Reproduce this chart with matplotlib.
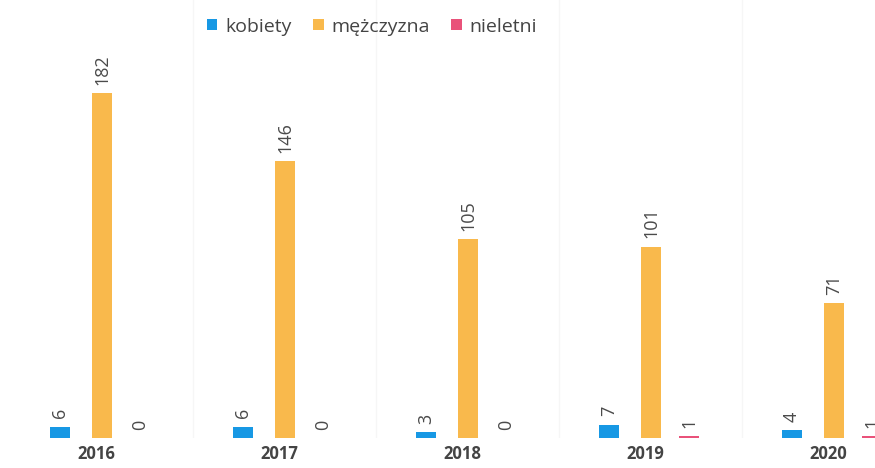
import numpy as np
import matplotlib.pyplot as plt

years = ['2016', '2017', '2018', '2019', '2020']
kobiety = [6, 6, 3, 7, 4]
mezczyzna = [182, 146, 105, 101, 71]
nieletni = [0, 0, 0, 1, 1]

colors = ['#1798e4', '#f9b94c', '#e9527a']
labels = ['kobiety', 'mężczyzna', 'nieletni']
series = [kobiety, mezczyzna, nieletni]
offsets = [-0.23, 0.0, 0.21]

plt.rcParams['font.family'] = ['Open Sans', 'DejaVu Sans']

fig = plt.figure(figsize=(8.75, 4.68), dpi=100)
ax = fig.add_axes([0, 0.064, 1, 0.936])

x = np.arange(len(years))
for vals, off, col, lab in zip(series, offsets, colors, labels):
    bars = ax.bar(x + off, vals, width=0.11, color=col, label=lab)
    for b, v in zip(bars, vals):
        ax.annotate(str(v), (b.get_x() + b.get_width() / 2, b.get_height()),
                    xytext=(0, 6), textcoords='offset points',
                    rotation=90, ha='center', va='bottom',
                    fontsize=13, color='#4a4a4a')

# faint separators between groups
for s in x[:-1] + 0.5:
    ax.axvline(s, color='#f6f6f6', lw=1, zorder=0)

ax.set_xlim(-0.557, 4.224)
ax.set_ylim(0, 231)
ax.set_xticks(x - 0.03)
ax.set_xticklabels(years, fontsize=12, fontweight='bold', color='#444444')
ax.tick_params(axis='x', length=0, pad=5)
ax.set_yticks([])
for sp in ax.spines.values():
    sp.set_visible(False)

ax.legend(loc='upper center', bbox_to_anchor=(0.425, 1.0), ncol=3, frameon=False,
          fontsize=14, handlelength=0.55, handleheight=0.55, handletextpad=0.4,
          columnspacing=1.1, labelcolor='#444444')

fig.savefig('out.png', dpi=100)
